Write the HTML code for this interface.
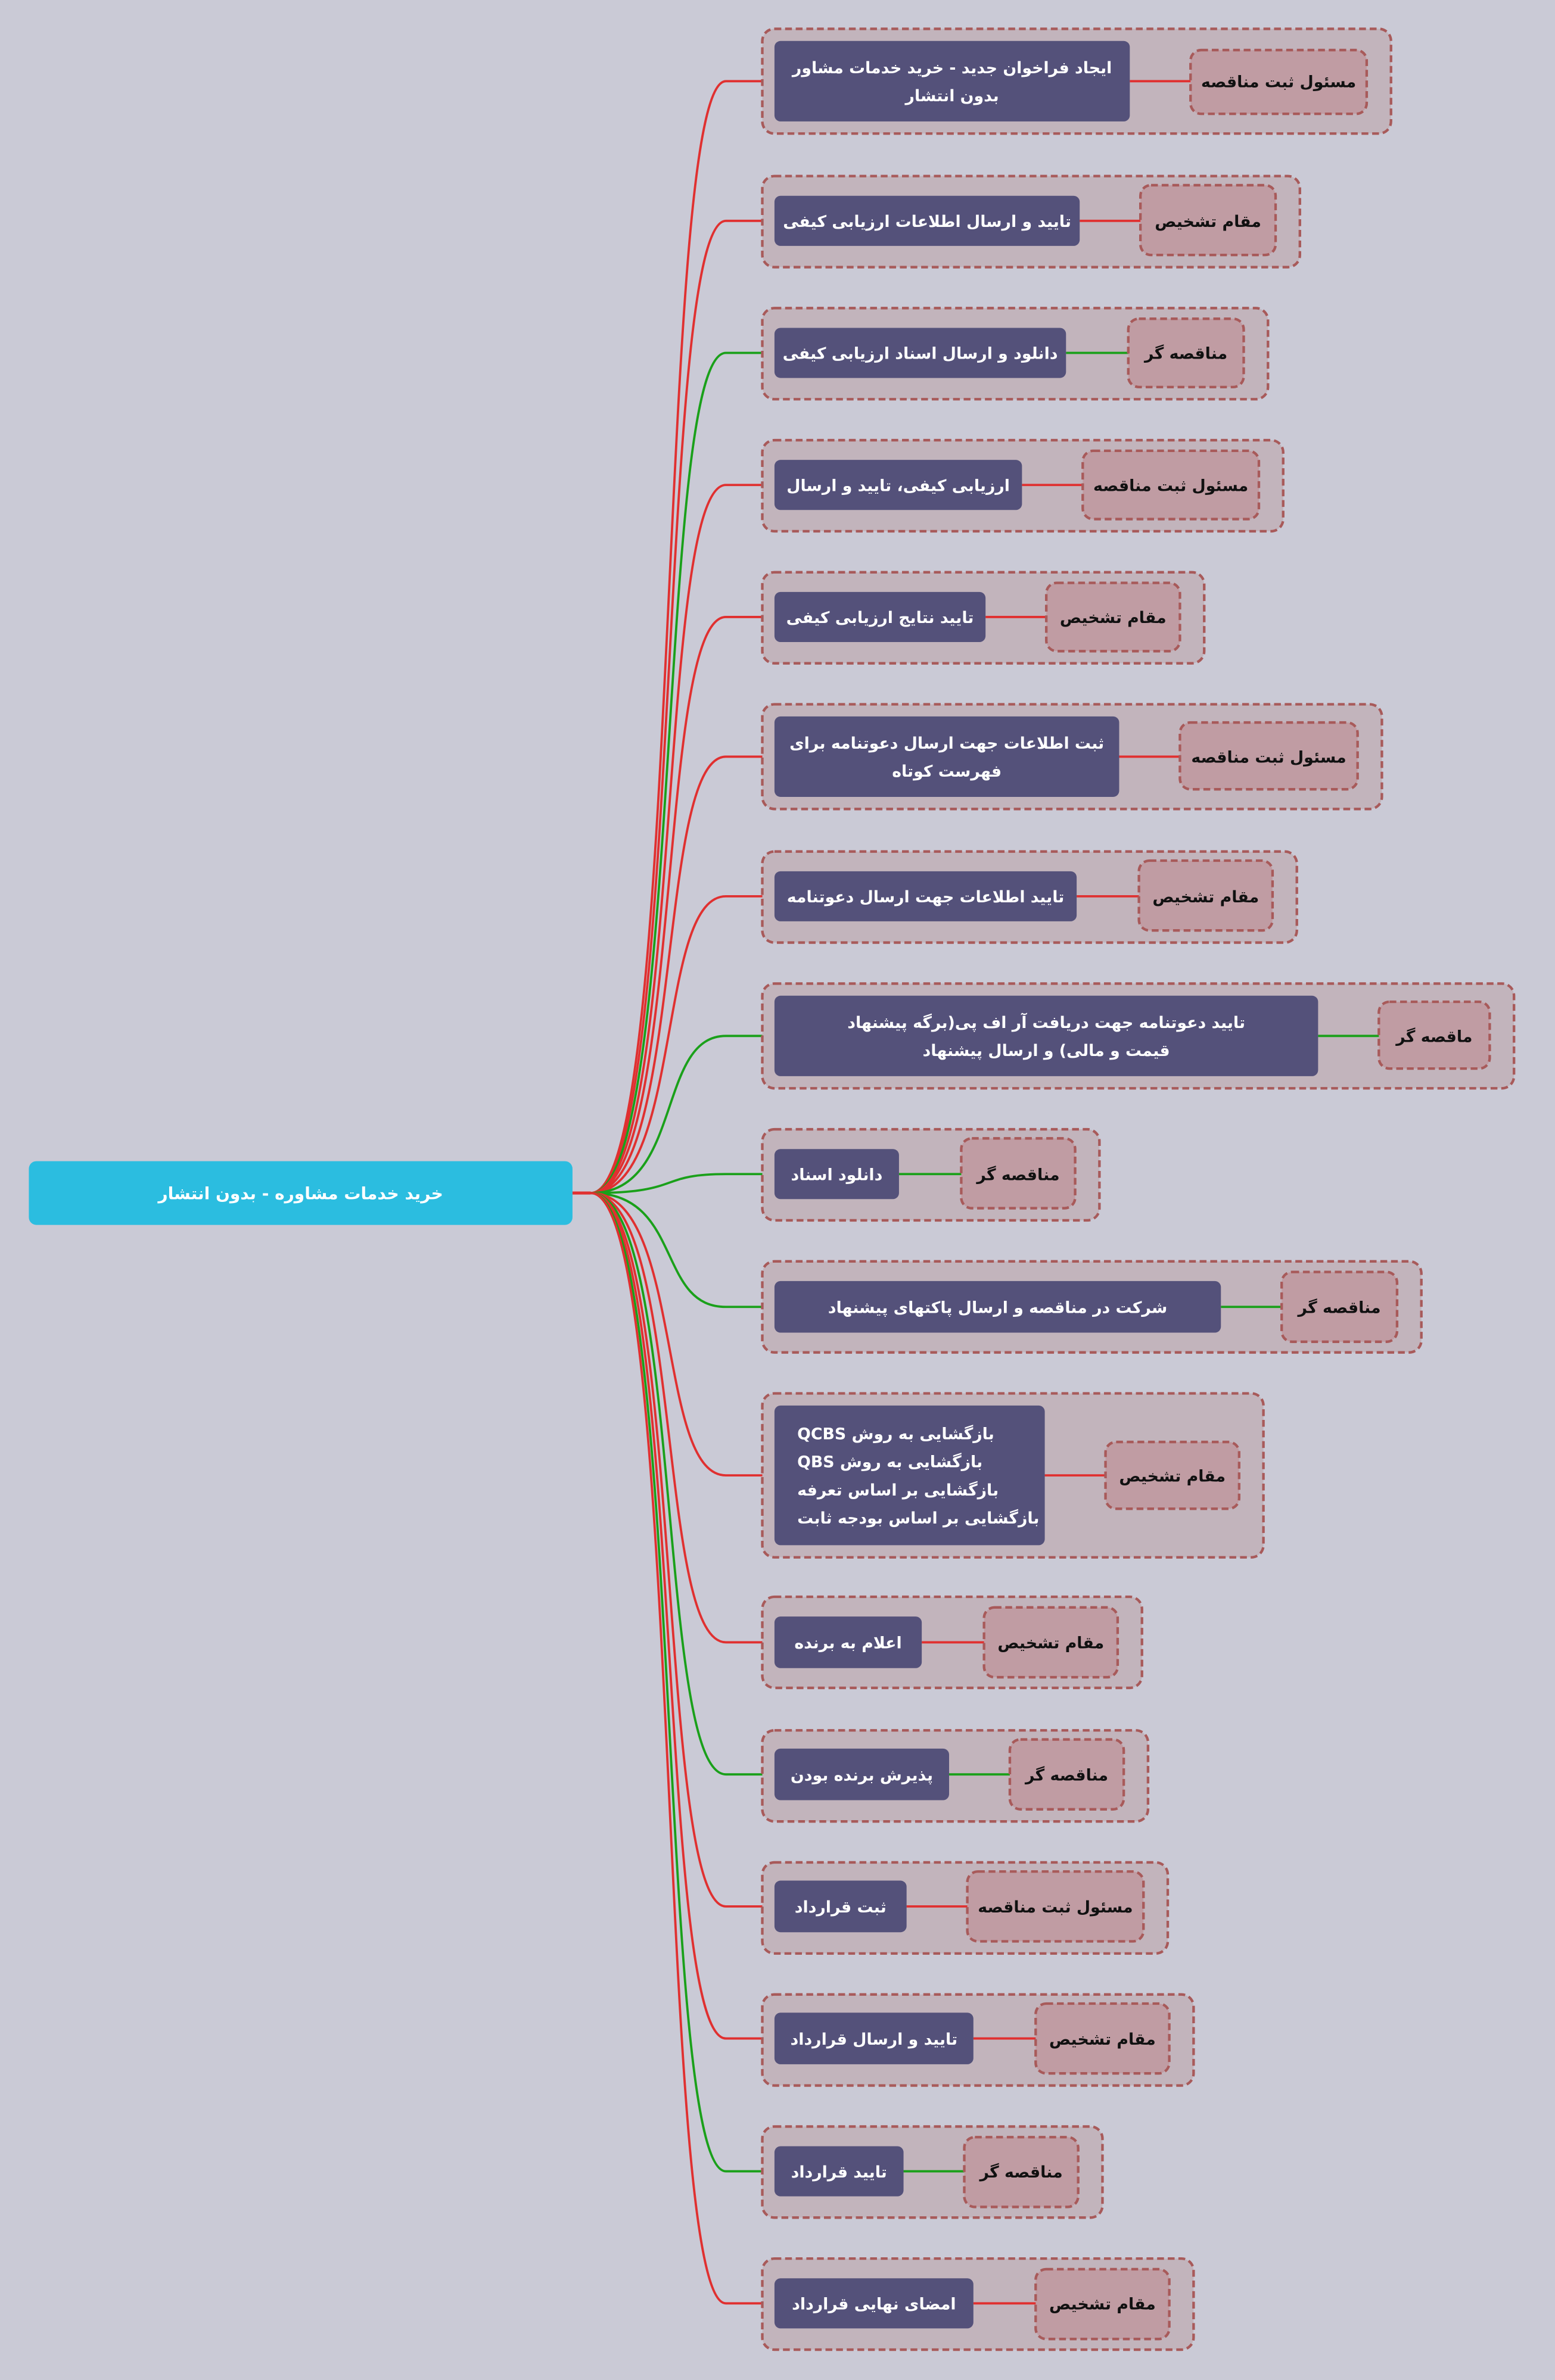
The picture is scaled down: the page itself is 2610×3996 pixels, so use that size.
<!DOCTYPE html>
<html><head><meta charset="utf-8">
<style>
html,body{margin:0;padding:0;background:#cacad6;}
svg{display:block;}
text{font-family:"DejaVu Sans","Liberation Sans",sans-serif;font-weight:bold;}
.t{fill:#fff;font-size:10.5px;}
.r{fill:#111;font-size:10.5px;}
.og{fill:#c2b4bc;stroke:#a85a5a;stroke-width:1.7;stroke-dasharray:4.5 2.5;}
.rl{fill:#c09ca3;stroke:#a85a5a;stroke-width:1.7;stroke-dasharray:4.5 2.5;}
.tk{fill:#54517a;}
</style></head>
<body>
<svg width="2610" height="3996" viewBox="0 0 1024 1568" preserveAspectRatio="none" xmlns="http://www.w3.org/2000/svg">
<rect x="0" y="0" width="1024" height="1568" fill="#cacad6"/>
<g id="conn" fill="none" stroke-width="1.5"></g>
<g id="nodes"></g>
<rect x="19" y="765" width="358" height="42" rx="5" fill="#2bbde0"/>
<text x="198" y="790" text-anchor="middle" direction="rtl" fill="#fff" font-size="11">خرید خدمات مشاوره - بدون انتشار</text>
<line x1="377" y1="786" x2="389" y2="786" stroke="#e03030" stroke-width="2"/>
<script>
var R="#e03030",G="#1aa01a";
var rows=[
[916,19,88,744,27,80,784,900,33,75,R,["ایجاد فراخوان جدید - خرید خدمات مشاور","بدون انتشار"],"مسئول ثبت مناقصه"],
[856,116,176,711,129,162,751,840,122,168,R,["تایید و ارسال اطلاعات ارزیابی کیفی"],"مقام تشخیص"],
[835,203,263,702,216,249,743,819,210,255,G,["دانلود و ارسال اسناد ارزیابی کیفی"],"مناقصه گر"],
[845,290,350,673,303,336,713,829,297,342,R,["ارزیابی کیفی، تایید و ارسال"],"مسئول ثبت مناقصه"],
[793,377,437,649,390,423,689,777,384,429,R,["تایید نتایج ارزیابی کیفی"],"مقام تشخیص"],
[910,464,533,737,472,525,777,894,476,520,R,["ثبت اطلاعات جهت ارسال دعوتنامه برای","فهرست کوتاه"],"مسئول ثبت مناقصه"],
[854,561,621,709,574,607,750,838,567,613,R,["تایید اطلاعات جهت ارسال دعوتنامه"],"مقام تشخیص"],
[997,648,717,868,656,709,908,981,660,704,G,["تایید دعوتنامه جهت دریافت آر اف پی(برگه پیشنهاد","قیمت و مالی) و ارسال پیشنهاد"],"ماقصه گر"],
[724,744,804,592,757,790,633,708,750,796,G,["دانلود اسناد"],"مناقصه گر"],
[936,831,891,804,844,878,844,920,838,884,G,["شرکت در مناقصه و ارسال پاکتهای پیشنهاد"],"مناقصه گر"],
[832,918,1026,688,926,1018,728,816,950,994,R,["بازگشایی به روش QCBS","بازگشایی به روش QBS","بازگشایی بر اساس تعرفه","بازگشایی بر اساس بودجه ثابت"],"مقام تشخیص"],
[752,1052,1112,607,1065,1099,648,736,1059,1105,R,["اعلام به برنده"],"مقام تشخیص"],
[756,1140,1200,625,1152,1186,665,740,1146,1192,G,["پذیرش برنده بودن"],"مناقصه گر"],
[769,1227,1287,597,1239,1273,637,753,1233,1279,R,["ثبت قرارداد"],"مسئول ثبت مناقصه"],
[786,1314,1374,641,1326,1360,682,770,1320,1366,R,["تایید و ارسال قرارداد"],"مقام تشخیص"],
[726,1401,1461,595,1414,1447,635,710,1408,1454,G,["تایید قرارداد"],"مناقصه گر"],
[786,1488,1548,641,1501,1534,682,770,1495,1541,R,["امضای نهایی قرارداد"],"مقام تشخیص"]
];
var NS="http://www.w3.org/2000/svg",c=document.getElementById("conn"),n=document.getElementById("nodes");
function el(p,tag,a,txt){var e=document.createElementNS(NS,tag);for(var k in a)e.setAttribute(k,a[k]);if(txt)e.textContent=txt;p.appendChild(e);return e;}
rows.forEach(function(r,i){
 var cy=(r[4]+r[5])/2;
 el(c,"path",{d:"M389 786 C 450 786, 432 "+cy+", 478 "+cy+" L 510 "+cy,stroke:r[10]});
 el(n,"rect",{x:502,y:r[1],width:r[0]-502,height:r[2]-r[1],rx:8,"class":"og"});
 el(n,"line",{x1:r[3],y1:cy,x2:r[6]+8,y2:cy,stroke:r[10],"stroke-width":1.5});
 el(n,"rect",{x:510,y:r[4],width:r[3]-510,height:r[5]-r[4],rx:4,"class":"tk"});
 el(n,"rect",{x:r[6],y:r[8],width:r[7]-r[6],height:r[9]-r[8],rx:7,"class":"rl"});
 var L=r[11],lh=18.5,y0=cy-(L.length-1)*lh/2+4;
 L.forEach(function(s,j){
  if(i==10) el(n,"text",{x:525,y:y0+j*lh,"text-anchor":"end",direction:"rtl","class":"t"},s);
  else el(n,"text",{x:(510+r[3])/2,y:y0+j*lh,"text-anchor":"middle",direction:"rtl","class":"t"},s);
 });
 el(n,"text",{x:(r[6]+r[7])/2,y:cy+4,"text-anchor":"middle",direction:"rtl","class":"r"},r[12]);
});
</script>
</svg>
</body></html>
